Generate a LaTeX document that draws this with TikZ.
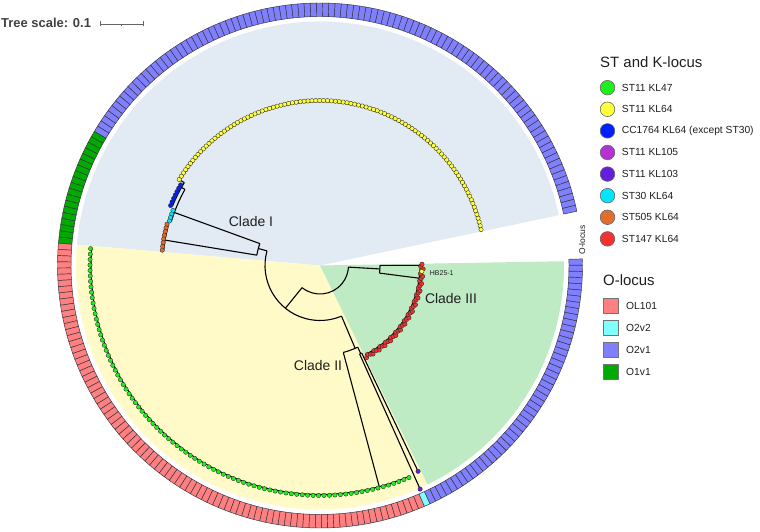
\documentclass[tikz,border=0pt]{standalone}
\usepackage{fontspec}
\setmainfont{Liberation Sans}
\definecolor{wI}{RGB}{226,234,243}
\definecolor{wII}{RGB}{255,250,200}
\definecolor{wIII}{RGB}{190,235,195}
\definecolor{oOL}{RGB}{255,128,128}
\definecolor{oOtwovtwo}{RGB}{128,255,255}
\definecolor{oOtwovone}{RGB}{128,128,255}
\definecolor{oOonevone}{RGB}{0,170,0}
\definecolor{kGreen}{RGB}{30,240,30}
\definecolor{kYellow}{RGB}{255,255,60}
\definecolor{kBlue}{RGB}{0,30,255}
\definecolor{kKcv}{RGB}{180,50,210}
\definecolor{kKciii}{RGB}{100,30,220}
\definecolor{kCyan}{RGB}{0,230,255}
\definecolor{kOrange}{RGB}{225,110,45}
\definecolor{kRed}{RGB}{240,50,50}
\definecolor{ringline}{RGB}{50,50,60}
\definecolor{txt}{RGB}{30,30,30}
\tikzset{
  br/.style={draw=black, line width=1.1},
  cell/.style={draw=ringline, line width=0.45},
  leafdot/.style={draw=black!85, line width=0.35},
  cladelbl/.style={font=\fontsize{14}{16}\selectfont, text=txt, inner sep=0},
  leg/.style={font=\fontsize{10.3}{12}\selectfont, anchor=west, inner sep=0, text=txt},
  legtitle/.style={font=\fontsize{15}{17}\selectfont, anchor=base west, inner sep=0, text=txt},
}
% ring cells for leaf indices #1..#2 in colour #3
\newcommand\ringrange[3]{%
  \foreach \i in {#1,...,#2}{%
    \pgfmathsetmacro\ca{12.6+1.36*\i-0.68}%
    \pgfmathsetmacro\cb{\ca+1.36}%
    \filldraw[cell, fill=#3] (\ca:249) arc[start angle=\ca, end angle=\cb, radius=249]
      -- (\cb:262.5) arc[start angle=\cb, end angle=\ca, radius=262.5] -- cycle;}}
% leaf dots for indices #1..#2 at radius #3 in colour #4
\newcommand\dotrange[4]{%
  \foreach \i in {#1,...,#2}{%
    \pgfmathsetmacro\ca{12.6+1.36*\i}%
    \filldraw[leafdot, fill=#4] (\ca:#3) circle[radius=2.2];}}
\newcommand\brarc[3]{\draw[br] (#1:#3) arc[start angle=#1, end angle=#2, radius=#3];}
\newcommand\brrad[3]{\draw[br] (#1:#2) -- (#1:#3);}
\begin{document}
\begin{tikzpicture}[x=1bp,y=1bp,line join=round]
\useasboundingbox (0,0) rectangle (760,532);
\begin{scope}[shift={(320,266.5)}]
  % clade wedges
  \fill[wI] (0,0) -- (11.9:244) arc[start angle=11.9, end angle=175.1, radius=244] -- cycle;
  \fill[wII] (0,0) -- (175.1:244) arc[start angle=175.1, end angle=296.16, radius=244] -- cycle;
  \fill[wIII] (0,0) -- (296.16:244) arc[start angle=296.16, end angle=361.0, radius=244] -- cycle;
  % O-locus ring
  \ringrange{0}{100}{oOtwovone}
  \ringrange{101}{119}{oOonevone}
  \ringrange{120}{206}{oOL}
  \ringrange{207}{207}{oOtwovtwo}
  \ringrange{208}{256}{oOtwovone}
  % root and backbone
  \brarc{231}{356.7}{28.5}
  \brrad{231}{28.5}{55}
  \brarc{164.6}{293}{55}
  % clade I
  \brrad{164.6}{55}{64}
  \brarc{160}{170.7}{64}
  \brrad{170.7}{64}{157}
  \brarc{164.92}{174.44}{157}
  \brrad{160}{64}{155}
  \brarc{150.6}{163.56}{155}
  \brrad{150.6}{155}{159}
  \brarc{148.6}{158.12}{159}
  \brrad{148.6}{159}{164}
  \brarc{12.6}{148.6}{164}
  % clade II
  \brrad{293}{55}{90}
  \brarc{285}{294.8}{90}
  \brrad{285}{90}{229}
  \brarc{175.8}{292.76}{229}
  \brrad{294.8}{90}{97}
  \brarc{294.12}{295.48}{97}
  \brrad{294.12}{97}{245}
  \brrad{295.48}{97}{228}
  % clade III
  \brrad{356.7}{28.5}{60}
  \brarc{352.7}{360.1}{60}
  \brrad{360.1}{60}{100}
  \brarc{359.4}{360.76}{100}
  \brrad{352.7}{60}{100}
  \brarc{296.84}{358.04}{100}
  % leaves
  \dotrange{0}{100}{165}{kYellow}
  \dotrange{101}{107}{161}{kBlue}
  \dotrange{108}{111}{157}{kCyan}
  \dotrange{112}{119}{158.5}{kOrange}
  \dotrange{120}{206}{230}{kGreen}
  \dotrange{207}{207}{245}{kKciii}
  \dotrange{208}{208}{228}{kKciii}
  \foreach \i in {209,...,252,254,255,256}{%
    \pgfmathsetmacro\ca{12.6+1.36*\i}%
    \pgfmathsetmacro\rr{100.8+1.2*mod(\i,3)}%
    \filldraw[leafdot, fill=kRed] (\ca:\rr) circle[radius=2.2];}
  \dotrange{253}{253}{102}{kYellow}
  \node[font=\fontsize{7}{8}\selectfont, text=txt, anchor=west, inner sep=0] (hb) at (356.2:110) {HB25-1};
\end{scope}
% clade labels
\node[cladelbl] (cI) at (251,310) {Clade I};
\node[cladelbl] (cII) at (318,166) {Clade II};
\node[cladelbl] (cIII) at (451,233) {Clade III};
% ring label
\node[font=\fontsize{8.5}{10}\selectfont, text=txt, rotate=90, inner sep=0] (olab) at (582,292) {O-locus};
% tree scale
\node[font=\bfseries\fontsize{13}{15}\selectfont, text=black!75, anchor=base west, inner sep=0] (ts) at (1,504.5) {Tree scale: 0.1};
\coordinate (sa) at (100,508);
\coordinate (sb) at (143.3,508);
\coordinate (sm) at (121.7,508);
\draw[black!60, line width=0.9] (sa) -- (sb);
\draw[black!60, line width=0.9] ([yshift=-2.5]sa) -- ([yshift=2.5]sa);
\draw[black!60, line width=0.9] ([yshift=-2.5]sb) -- ([yshift=2.5]sb);
\draw[black!60, line width=0.9] (sm) -- ([yshift=-1.8]sm);
% legend: ST and K-locus
\node[legtitle] (sttitle) at (600,464.5) {ST and K-locus};
\foreach \k/\c/\t in {0/kGreen/ST11 KL47, 1/kYellow/ST11 KL64, 2/kBlue/CC1764 KL64 (except ST30), 3/kKcv/ST11 KL105, 4/kKciii/ST11 KL103, 5/kCyan/ST30 KL64, 6/kOrange/ST505 KL64, 7/kRed/ST147 KL64}{%
  \filldraw[fill=\c, draw=black!60, line width=0.6] (607.5,444.33-21.6*\k) circle[radius=7.3];
  \node[leg] (st\k) at (621.7,444.33-21.6*\k) {\t};}
% legend: O-locus
\node[legtitle] (otitle) at (603,246.3) {O-locus};
\foreach \k/\c/\t in {0/oOL/OL101, 1/oOtwovtwo/O2v2, 2/oOtwovone/O2v1, 3/oOonevone/O1v1}{%
  \filldraw[fill=\c, draw=black!55, line width=0.6] (603,218.5-21.9*\k) rectangle (618,233.5-21.9*\k);
  \node[leg] (ol\k) at (626,226-21.9*\k) {\t};}
\end{tikzpicture}
\end{document}
